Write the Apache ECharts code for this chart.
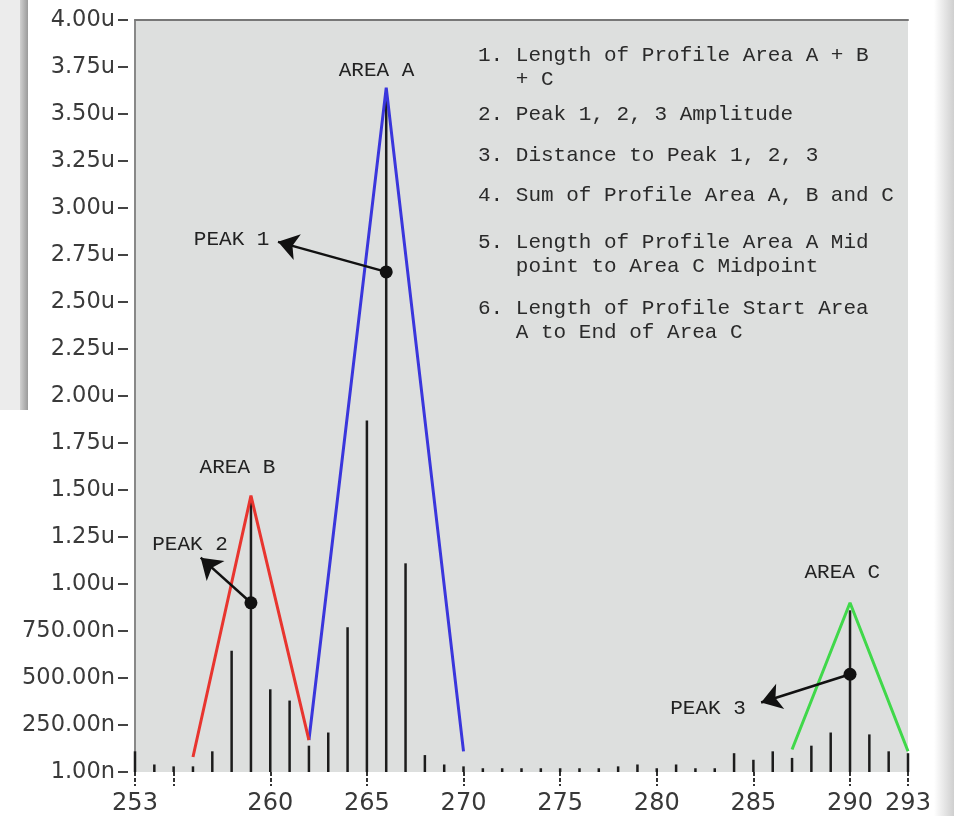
<!DOCTYPE html>
<html>
<head>
    <meta charset="utf-8">
    <title>Profile Areas</title>
    <script src="https://cdn.jsdelivr.net/npm/echarts@6/dist/echarts.min.js"></script>
</head>
<body style="margin:0;background:#ffffff;">
    <div id="main" style="width: 954px;height: 816px;"></div>
    <script type="text/javascript">

        // sample positions and their amplitude (in u)
        var samplePos = [253, 254, 255, 256, 257, 258, 259, 260, 261, 262,
            263, 264, 265, 266, 267, 268, 269, 270, 271, 272,
            273, 274, 275, 276, 277, 278, 279, 280, 281, 282,
            283, 284, 285, 286, 287, 288, 289, 290, 291, 292, 293];
        var amplitude = [0.11, 0.04, 0.03, 0.03, 0.11, 0.645, 1.46, 0.44, 0.38, 0.14,
            0.21, 0.77, 1.87, 3.61, 1.11, 0.09, 0.04, 0.03, 0.02, 0.02,
            0.02, 0.02, 0.02, 0.02, 0.02, 0.03, 0.04, 0.02, 0.04, 0.02,
            0.02, 0.10, 0.065, 0.11, 0.075, 0.14, 0.21, 0.86, 0.20, 0.11, 0.10];

        // triangle outline of each area
        var areaA = [[262, 0.17], [266, 3.64], [270, 0.11]];
        var areaB = [[256, 0.08], [259, 1.47], [262, 0.17]];
        var areaC = [[287, 0.12], [290, 0.90], [293, 0.11]];

        // peak markers and arrow tips
        var peaks = [[266, 2.66], [259, 0.90], [290, 0.52]];
        var arrowTips = [[260.4, 2.82], [256.4, 1.14], [285.4, 0.37]];

        // annotation text, anchored in data units
        var labelNames = ['AREA A', 'AREA B', 'AREA C', 'PEAK 1', 'PEAK 2', 'PEAK 3'];
        var labelAt = [[265.5, 3.73], [258.3, 1.62], [289.6, 1.06], [258.0, 2.835], [255.85, 1.21], [282.65, 0.34]];

        // axis ticks
        var xLabelVals = [253, 260, 265, 270, 275, 280, 285, 290, 293];
        var xTickVals = [253, 255, 260, 265, 270, 275, 280, 285, 290, 293];
        var yTickLabels = ['1.00n', '250.00n', '500.00n', '750.00n', '1.00u', '1.25u', '1.50u', '1.75u',
            '2.00u', '2.25u', '2.50u', '2.75u', '3.00u', '3.25u', '3.50u', '3.75u', '4.00u'];

        var notes = [
            '1. Length of Profile Area A + B\n   + C',
            '2. Peak 1, 2, 3 Amplitude',
            '3. Distance to Peak 1, 2, 3',
            '4. Sum of Profile Area A, B and C',
            '5. Length of Profile Area A Mid\n   point to Area C Midpoint',
            '6. Length of Profile Start Area\n   A to End of Area C'
        ];
        var noteTop = [43, 102, 143, 183, 230, 296];

        var monoFont = "21px 'Liberation Mono', 'Courier New', monospace";

        var myChart = echarts.init(document.getElementById('main'));

        var stems = samplePos.map(function (x, i) { return [x, amplitude[i]]; });
        var arrows = peaks.map(function (p, i) { return [{ coord: p }, { coord: arrowTips[i] }]; });

        var graphics = [
            { id: 'bgL', type: 'rect', z: -10, shape: { x: 0, y: 0, width: 20, height: 410 }, style: { fill: '#ececec' } },
            {
                id: 'barL', type: 'rect', z: -10, shape: { x: 20, y: 0, width: 8, height: 410 },
                style: { fill: new echarts.graphic.LinearGradient(0, 0, 1, 0, [{ offset: 0, color: '#d0d0d0' }, { offset: 1, color: '#9a9a9a' }]) }
            },
            {
                id: 'barR', type: 'rect', z: -10, shape: { x: 934, y: 0, width: 20, height: 816 },
                style: { fill: new echarts.graphic.LinearGradient(0, 0, 1, 0, [{ offset: 0, color: '#ffffff' }, { offset: 1, color: '#cfcfcf' }]) }
            }
        ];
        notes.forEach(function (t, i) {
            graphics.push({
                id: 'note' + i, type: 'text', left: 478, top: noteTop[i], z: 10,
                style: { text: t, font: monoFont, fill: '#2a2a2a', lineHeight: 24 }
            });
        });

        var option = {
            animation: false,
            backgroundColor: '#ffffff',
            grid: {
                left: 135, right: 46, top: 20, bottom: 44,
                show: true, backgroundColor: '#dddfde', borderWidth: 0,
                outerBoundsMode: 'none'
            },
            graphic: graphics,
            xAxis: [{
                type: 'value', min: 253, max: 293,
                axisLine: { show: false },
                splitLine: { show: false },
                axisTick: { show: true, customValues: xTickVals, length: 14, lineStyle: { color: '#333', width: 2, type: [4, 2] } },
                axisLabel: { customValues: xLabelVals, margin: 20, fontSize: 24, color: '#383838', fontFamily: 'DejaVu Sans' }
            }, {
                type: 'value', min: 253, max: 293, position: 'top',
                axisLine: { show: true, onZero: false, lineStyle: { color: '#777', width: 2 } },
                axisTick: { show: false }, axisLabel: { show: false }, splitLine: { show: false }
            }],
            yAxis: [{
                type: 'value', min: 0, max: 4, interval: 0.25,
                axisLine: { show: true, onZero: false, lineStyle: { color: '#888', width: 2 } },
                axisTick: { show: false }, axisLabel: { show: false }, splitLine: { show: false }
            }, {
                type: 'value', min: 0, max: 4, interval: 0.25, position: 'left', offset: 7,
                axisLine: { show: false, onZero: false },
                splitLine: { show: false },
                axisTick: { show: true, length: 10, lineStyle: { color: '#444', width: 2 } },
                axisLabel: {
                    margin: 13, fontSize: 22.5, color: '#3a3a3a', fontFamily: 'DejaVu Sans',
                    showMinLabel: true, showMaxLabel: true,
                    formatter: function (v) { return yTickLabels[Math.round(v / 0.25)]; }
                }
            }],
            series: [
                {
                    name: 'amplitude', type: 'bar', data: stems, barWidth: 2.5, z: 2,
                    itemStyle: { color: '#1c1c1c' }
                },
                {
                    name: 'Area A', type: 'line', data: areaA, symbol: 'none', z: 3,
                    lineStyle: { color: '#3a36dc', width: 3 }
                },
                {
                    name: 'Area B', type: 'line', data: areaB, symbol: 'none', z: 3,
                    lineStyle: { color: '#e8352f', width: 3 }
                },
                {
                    name: 'Area C', type: 'line', data: areaC, symbol: 'none', z: 3,
                    lineStyle: { color: '#40d84a', width: 3 }
                },
                {
                    name: 'peaks', type: 'scatter', data: peaks, symbolSize: 13, z: 5,
                    itemStyle: { color: '#111', opacity: 1 },
                    markLine: {
                        silent: true, animation: false,
                        symbol: ['none', 'arrow'], symbolSize: 20,
                        label: { show: false },
                        lineStyle: { color: '#111', width: 2.5, type: 'solid', opacity: 1 },
                        data: arrows
                    }
                }
            ]
        };

        myChart.setOption(option);

        // place the area / peak captions through the chart's own scales
        var captions = labelNames.map(function (n, i) {
            var p = myChart.convertToPixel({ xAxisIndex: 0, yAxisIndex: 0 }, labelAt[i]);
            return {
                id: 'cap' + i, type: 'text', x: p[0], y: p[1], z: 10,
                style: { text: n, font: monoFont, fill: '#222', align: 'center', verticalAlign: 'middle' }
            };
        });
        myChart.setOption({ graphic: captions });
    </script>
</body>
</html>
